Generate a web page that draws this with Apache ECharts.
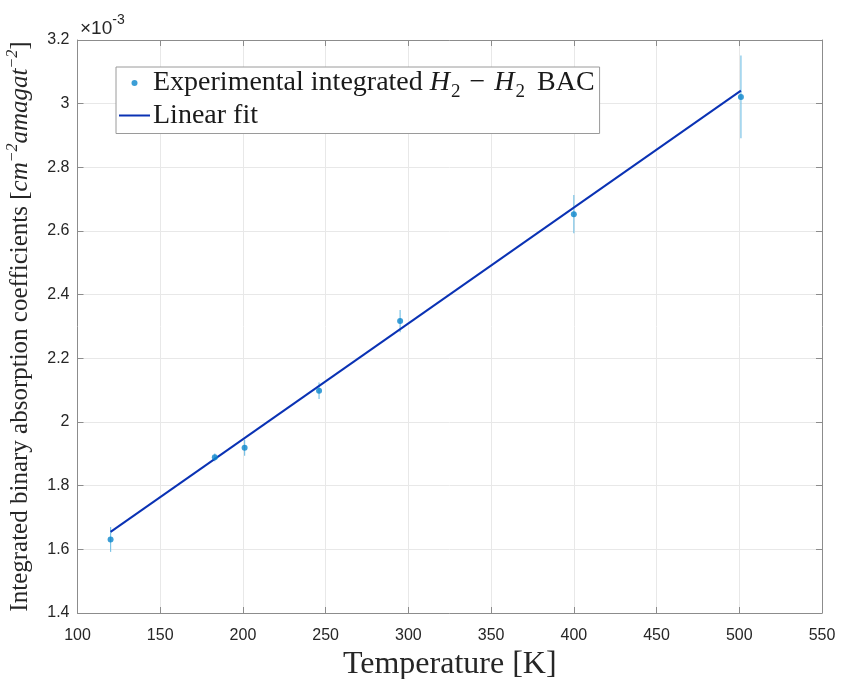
<!DOCTYPE html>
<html><head><meta charset="utf-8">
<script src="https://cdn.jsdelivr.net/npm/echarts@6/dist/echarts.min.js"></script>
<style>html,body{margin:0;padding:0;background:#fff}#c{width:842px;height:679px}</style>
</head><body><div id="c"></div>
<script>
// Values in units of 1e-3 cm^-2 amagat^-2
const temps = [120, 183, 201, 246, 295, 400, 501];
const bac = [1.631, 1.889, 1.919, 2.098, 2.317, 2.653, 3.021];
const bacErr = [0.039, 0.012, 0.025, 0.026, 0.035, 0.060, 0.130];
const fitT = [120, 501];
const fitBac = [1.655, 3.041];
const xTicks = {min: 100, max: 550, interval: 50};
const yTicks = {min: 1.4, max: 3.2, interval: 0.2};

const chart = echarts.init(document.getElementById('c'), null, {renderer: 'canvas'});
const serif = 'Liberation Serif';
const sans = 'Liberation Sans';
const axisGray = '#8c8c8c';
const gridGray = '#e8e8e8';
const tickLabel = {color: '#262626', fontFamily: sans, fontSize: 16};
const dotColor = '#0b86cc';

const scatterName = 'Experimental integrated H2 - H2 BAC';
const fitName = 'Linear fit';

chart.setOption({
  animation: false,
  grid: {left: 77.5, right: 20, top: 40, bottom: 66, containLabel: false, outerBoundsMode: 'none'},
  graphic: [{
    type: 'text', left: 80, top: 13,
    style: {
      text: '{a|×10}{b|-3}',
      rich: {
        a: {fontFamily: sans, fontSize: 19, fill: '#262626', verticalAlign: 'bottom', lineHeight: 25},
        b: {fontFamily: sans, fontSize: 14, fill: '#262626', verticalAlign: 'top', lineHeight: 25}
      }
    }
  }],
  legend: {
    orient: 'vertical', left: 116, top: 67,
    padding: [2, 5, 4, 3], itemGap: 0,
    itemWidth: 31, itemHeight: 6,
    borderColor: '#9a9a9a', borderWidth: 1, backgroundColor: '#fff',
    data: [
      {name: scatterName, icon: 'circle', itemStyle: {color: dotColor}},
      {name: fitName, icon: 'path://M0,0H31V2H0Z', itemStyle: {color: '#0a32b4'}}
    ],
    formatter: function (n) {
      if (n === scatterName) return '{r|Experimental integrated }{i|H}{s|2}{m|−}{i|H}{s|2}{b|BAC}';
      return '{r|Linear fit}';
    },
    textStyle: {
      padding: [0, 0, 0, -2],
      rich: {
        r: {fontFamily: serif, fontSize: 28, color: '#1a1a1a', lineHeight: 31, verticalAlign: 'middle'},
        b: {fontFamily: serif, fontSize: 28, color: '#1a1a1a', lineHeight: 31, verticalAlign: 'middle', padding: [0, 0, 0, 12]},
        m: {fontFamily: serif, fontSize: 28, color: '#1a1a1a', lineHeight: 31, verticalAlign: 'middle', padding: [0, 9, 0, 9]},
        i: {fontFamily: serif, fontStyle: 'italic', fontSize: 28, color: '#1a1a1a', lineHeight: 31, verticalAlign: 'middle'},
        s: {fontFamily: serif, fontSize: 19, color: '#1a1a1a', lineHeight: 31, verticalAlign: 'bottom', padding: [0, 0, -3, 1]}
      }
    }
  },
  xAxis: [{
    type: 'value', min: xTicks.min, max: xTicks.max, interval: xTicks.interval,
    name: 'Temperature [K]', nameLocation: 'middle', nameGap: 34,
    nameTextStyle: {fontFamily: serif, fontSize: 32, color: '#262626', verticalAlign: 'top'},
    axisLine: {show: true, onZero: false, lineStyle: {color: axisGray, width: 1}},
    axisTick: {show: true, inside: true, length: 6, lineStyle: {color: axisGray}},
    axisLabel: Object.assign({margin: 15}, tickLabel),
    splitLine: {show: true, lineStyle: {color: gridGray, width: 1}}
  }, {
    type: 'value', position: 'top', min: xTicks.min, max: xTicks.max, interval: xTicks.interval,
    axisLine: {show: true, onZero: false, lineStyle: {color: axisGray, width: 1}},
    axisTick: {show: true, inside: true, length: 6, lineStyle: {color: axisGray}},
    axisLabel: {show: false}, splitLine: {show: false}
  }],
  yAxis: [{
    type: 'value', min: yTicks.min, max: yTicks.max, interval: yTicks.interval,
    name: '{r|Integrated binary absorption coefficients [}{i|cm}{p|−2}{i|amagat}{p|−2}{r|]}',
    nameLocation: 'middle', nameGap: 42, nameRotate: 90,
    nameTextStyle: {
      padding: [0, 0, 0, 0],
      rich: {
        r: {fontFamily: serif, fontSize: 25, color: '#262626', lineHeight: 30, verticalAlign: 'middle'},
        i: {fontFamily: serif, fontStyle: 'italic', fontSize: 25, color: '#262626', lineHeight: 30, verticalAlign: 'middle'},
        p: {fontFamily: serif, fontStyle: 'italic', fontSize: 16, color: '#262626', lineHeight: 30, verticalAlign: 'top', padding: [-1, 0, 0, 0]}
      }
    },
    axisLine: {show: true, onZero: false, lineStyle: {color: axisGray, width: 1}},
    axisTick: {show: true, inside: true, length: 6, lineStyle: {color: axisGray}},
    axisLabel: Object.assign({margin: 8, formatter: v => String(Math.round(v * 10) / 10)}, tickLabel),
    splitLine: {show: true, lineStyle: {color: gridGray, width: 1}}
  }, {
    type: 'value', position: 'right', min: yTicks.min, max: yTicks.max, interval: yTicks.interval,
    axisLine: {show: true, onZero: false, lineStyle: {color: axisGray, width: 1}},
    axisTick: {show: true, inside: true, length: 6, lineStyle: {color: axisGray}},
    axisLabel: {show: false}, splitLine: {show: false}
  }],
  series: [{
    name: 'errorbars', type: 'custom', xAxisIndex: 0, yAxisIndex: 0,
    data: temps.map((t, i) => [t, bac[i] - bacErr[i], bac[i] + bacErr[i]]),
    renderItem: function (params, api) {
      const lo = api.coord([api.value(0), api.value(1)]);
      const hi = api.coord([api.value(0), api.value(2)]);
      return {type: 'line', shape: {x1: lo[0], y1: lo[1], x2: hi[0], y2: hi[1]},
        style: {stroke: '#7cc3e6', lineWidth: 1.2}};
    },
    silent: true, z: 2
  }, {
    name: fitName, type: 'line', xAxisIndex: 0, yAxisIndex: 0,
    data: fitT.map((t, i) => [t, fitBac[i]]),
    symbol: 'none', showSymbol: false,
    lineStyle: {color: '#0a32b4', width: 2},
    itemStyle: {color: '#0a32b4'}, z: 3
  }, {
    name: scatterName, type: 'scatter', xAxisIndex: 0, yAxisIndex: 0,
    data: temps.map((t, i) => [t, bac[i]]),
    symbol: 'circle', symbolSize: 6,
    itemStyle: {color: dotColor}, z: 4
  }]
});
</script>
</body></html>
